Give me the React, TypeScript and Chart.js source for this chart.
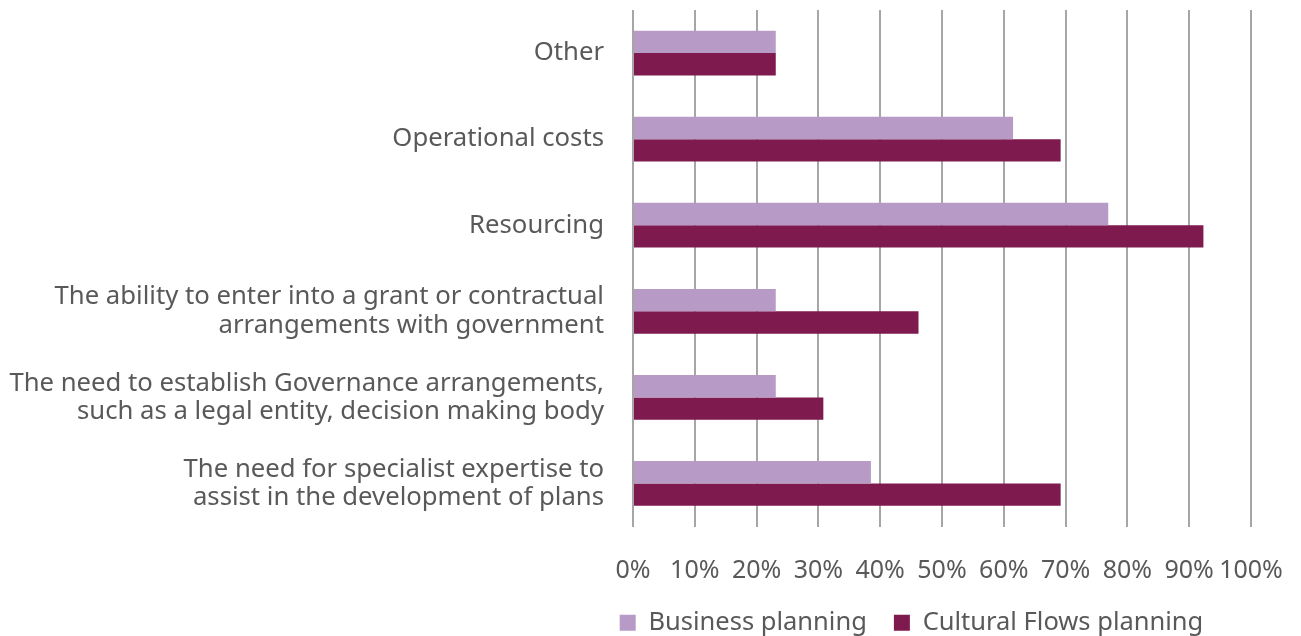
import React, { useEffect, useRef } from "react";
import { Chart, registerables } from "chart.js";

Chart.register(...registerables);

const categories: string[][] = [
  ["Other"],
  ["Operational costs"],
  ["Resourcing"],
  ["The ability to enter into a grant or contractual", "arrangements with government"],
  ["The need to establish Governance arrangements,", "such as a legal entity, decision making body"],
  ["The need for specialist expertise to", "assist in the development of plans"],
];

const businessPlanning: number[] = [23.1, 61.5, 76.9, 23.1, 23.1, 38.5];
const culturalFlowsPlanning: number[] = [23.1, 69.2, 92.3, 46.2, 30.8, 69.2];

const seriesNames = ["Business planning", "Cultural Flows planning"];
const seriesColors = ["#B79AC5", "#7F1A4F"];

const TEXT = "#595959";
const FONT = "'Noto Sans', 'Open Sans', sans-serif";

const legendShift = {
  id: "legendShift",
  afterLayout(chart: any) {
    const l = chart.legend;
    if (!l) return;
    const h = l.bottom - l.top;
    l.left += 286;
    l.right += 286;
    l.top = 583;
    l.bottom = 583 + h;
  },
};

export default function App() {
  const ref = useRef<HTMLCanvasElement | null>(null);

  useEffect(() => {
    document.body.style.margin = "0";
    const ctx = ref.current;
    if (!ctx) return;
    const chart = new Chart(ctx, {
      type: "bar",
      data: {
        labels: categories,
        datasets: [
          {
            label: seriesNames[0],
            data: businessPlanning,
            backgroundColor: seriesColors[0],
            borderWidth: 0,
          },
          {
            label: seriesNames[1],
            data: culturalFlowsPlanning,
            backgroundColor: seriesColors[1],
            borderWidth: 0,
          },
        ],
      },
      plugins: [legendShift],
      options: {
        indexAxis: "y",
        animation: false,
        responsive: false,
        maintainAspectRatio: false,
        layout: { padding: { top: 10, right: 50, left: 0, bottom: -23 } },
        datasets: {
          bar: { categoryPercentage: 0.52, barPercentage: 1 },
        },
        scales: {
          x: {
            min: 0,
            max: 100,
            ticks: {
              stepSize: 10,
              callback: (v: any) => v + "%",
              color: TEXT,
              font: { family: FONT, size: 25, lineHeight: 1.2 },
              padding: 29,
              maxRotation: 0,
              autoSkip: false,
            },
            grid: {
              color: "#A6A6A6",
              lineWidth: 2,
              drawTicks: false,
            },
            border: { display: false },
            afterFit: (s: any) => {
              s.paddingLeft = 0;
              s.paddingRight = 0;
              s.height = 70;
            },
          },
          y: {
            ticks: {
              color: TEXT,
              font: { family: FONT, size: 25.7, lineHeight: 1.1 },
              padding: 29,
              autoSkip: false,
            },
            grid: { display: false, drawTicks: false },
            border: { display: false },
            afterFit: (s: any) => {
              s.paddingTop = 0;
              s.paddingBottom = 0;
              s.width = 633;
            },
          },
        },
        plugins: {
          legend: {
            position: "bottom",
            labels: {
              color: TEXT,
              font: { family: FONT, size: 25.5 },
              boxWidth: 16,
              boxHeight: 16,
              padding: 27,
            },
          },
          tooltip: { enabled: false },
        },
      },
    });
    return () => chart.destroy();
  }, []);

  return (
    <div style={{ position: "absolute", left: 0, top: 0, width: 1301, height: 636 }}>
      <canvas ref={ref} width={1301} height={636} style={{ width: 1301, height: 636 }} />
    </div>
  );
}
